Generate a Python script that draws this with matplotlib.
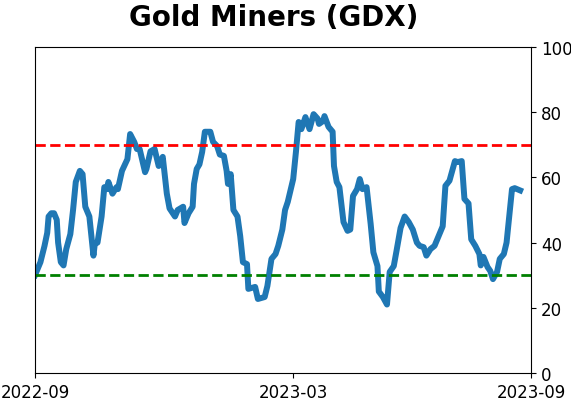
import datetime as dt
import matplotlib
matplotlib.use("Agg")
import matplotlib.pyplot as plt

start = dt.date(2022, 9, 1)
end = dt.date(2023, 9, 1)

# days after start, and indicator value
days = [0, 4, 7, 9, 10, 12, 14, 16, 17, 19, 21, 23, 26, 28, 30, 33, 35, 37, 40, 43,
        44, 46, 49, 51, 53, 54, 57, 60, 61, 64, 68, 70, 73, 75, 77, 81, 82, 85, 88, 91,
        94, 97, 99, 103, 105, 109, 110, 113, 116, 117, 119, 121, 123, 125, 129, 131, 134, 136, 139, 141,
        142, 144, 146, 149, 151, 153, 156, 157, 162, 164, 169, 171, 174, 177, 179, 182, 184, 186, 190, 192,
        194, 196, 199, 202, 205, 208, 209, 212, 213, 216, 219, 220, 222, 224, 227, 230, 232, 234, 237, 239,
        241, 244, 247, 249, 252, 253, 256, 259, 261, 264, 266, 269, 272, 275, 278, 281, 283, 286, 288, 291,
        294, 298, 300, 302, 305, 308, 309, 311, 314, 316, 319, 321, 324, 327, 328, 330, 333, 335, 337, 340,
        342, 345, 347, 351, 353, 357]
values = [30, 34, 39, 43, 48, 49, 49, 47, 40, 34, 33, 38, 42.6, 50, 58.6, 62, 61, 51, 48, 36,
          39.6, 40, 48, 57, 56.4, 58.6, 55, 57, 56.4, 62, 65.6, 73.3, 70.9, 68.7, 68.7, 61.6, 62.6, 68, 68.7, 63.5,
          66.3, 55, 50.5, 48, 50, 51, 46, 49, 51, 58, 62.6, 64, 67.8, 74, 74, 70.9, 69.6, 67, 66.6, 62,
          58, 61, 50, 48, 42, 34, 33.4, 25.8, 26.4, 22.7, 23.3, 26.7, 35, 36.5, 39, 44, 50, 52.5, 59.5, 67.8,
          77, 74.8, 78.5, 74.8, 79.4, 78, 76.4, 77.3, 78.8, 75.5, 74, 63.5, 58.6, 57, 46.3, 43.6, 44, 54.3, 56.4, 59.5,
          56.4, 57, 45.7, 37, 32.8, 25, 23.3, 21, 31, 32.8, 37.4, 44.5, 48, 46.3, 44, 40, 39, 38.6, 36, 38,
          39, 43, 45, 57.4, 59, 63.5, 65, 64.7, 65, 53.4, 52, 41, 39, 36.5, 33, 35.6, 32.5, 31.3, 28.8, 31,
          35, 36.5, 40, 56.4, 56.7, 56]
upper = 70
lower = 30
tick_dates = [start, dt.date(2023, 3, 10), end]
tick_labels = ["2022-09", "2023-03", "2023-09"]

dates = [start + dt.timedelta(days=d) for d in days]

fig = plt.figure(figsize=(5.71, 4.02), dpi=100)
ax = fig.add_axes([0.0613, 0.0697, 0.8687, 0.8109])
ax.plot(dates, values, color="#1f77b4", lw=4.3)
ax.axhline(upper, color="red", ls="--", lw=2)
ax.axhline(lower, color="green", ls="--", lw=2)
ax.set_xlim(start, end)
ax.set_ylim(0, 100)
ax.yaxis.tick_right()
ax.set_xticks(tick_dates)
ax.set_xticklabels(tick_labels)
ax.tick_params(labelsize=12)
fig.suptitle("Gold Miners (GDX)", fontsize=20, fontweight="bold", x=0.48, y=0.99)
fig.savefig("out.png", dpi=100)
